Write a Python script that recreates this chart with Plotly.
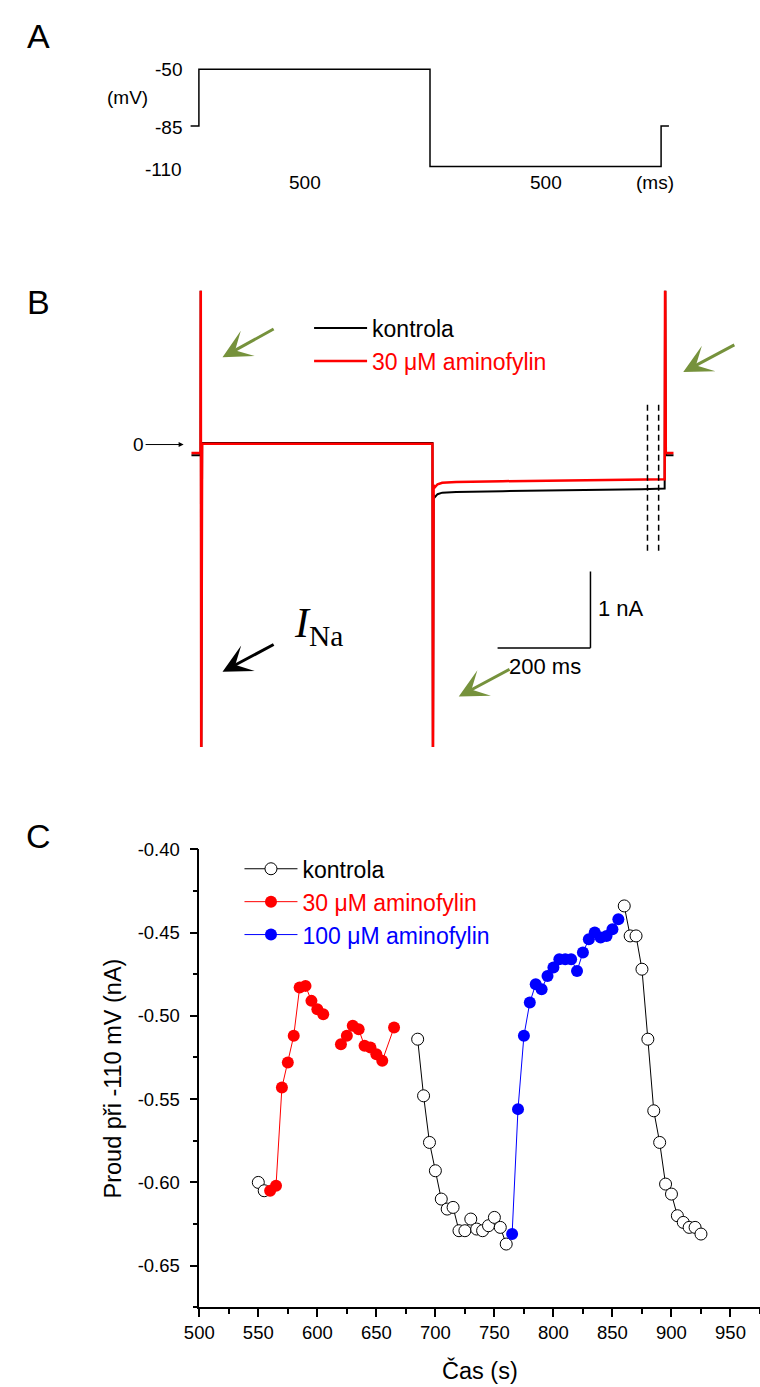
import plotly.graph_objects as go

W, H = 760, 1387
SANS = "Liberation Sans, Arial, Helvetica, sans-serif"
SERIF = "Liberation Serif, Times New Roman, serif"
GREEN = "#76923C"

# ---------------- data ----------------
# A: voltage-clamp protocol (ms, mV)
protocol_t = [-18, 0, 0, 500, 500, 1000, 1000, 1017]
protocol_v = [-85, -85, -50, -50, -110, -110, -85, -85]
level_labels = ["-50", "-85", "-110"]
step_labels = ["500", "500", "(ms)"]

# B: membrane current records (ms, nA)
trace_t = [-20, -0.5, 0, 1, 3, 8, 100, 300, 499, 500, 501.5, 504, 510, 520,
           550, 650, 800, 950, 999, 1000, 1001.5, 1018]
kontrola_i = [-0.14, -0.14, 2.6, -4.5, 0.02, 0.02, 0.02, 0.02, 0.02, -4.5,
              -0.66, -0.69, -0.65, -0.63, -0.62, -0.61, -0.60, -0.585, -0.575,
              2.6, -0.14, -0.14]
amino30_i = [-0.11, -0.11, 2.6, -4.5, 0.01, 0.01, 0.01, 0.01, 0.01, -4.5,
             -0.53, -0.56, -0.52, -0.50, -0.49, -0.48, -0.47, -0.46, -0.455,
             2.6, -0.11, -0.11]
measure_window_ms = [962, 986]
scale_bar_ms = 200
scale_bar_na = 1

# C: current at -110 mV vs time (s, nA)
kontrola_t = [550, 555, None, 685, 690, 695, 700, 705, 710, 715, 720, 725, 730,
              735, 740, 745, 750, 755, 760, None, 860, 865, 870, 875, 880, 885,
              890, 895, 900, 905, 910, 915, 920, 925]
kontrola_y = [-0.600, -0.605, None, -0.514, -0.548, -0.576, -0.593, -0.610,
              -0.616, -0.615, -0.629, -0.629, -0.622, -0.628, -0.629, -0.626,
              -0.621, -0.627, -0.637, None, -0.434, -0.452, -0.452, -0.472,
              -0.514, -0.557, -0.576, -0.601, -0.607, -0.620, -0.624, -0.627,
              -0.627, -0.631]
amino30_t = [560, 565, 570, 575, 580, 585, 590, 595, 600, 605, None, 620, 625,
             630, 635, 640, 645, 650, 655, 665]
amino30_y = [-0.605, -0.602, -0.543, -0.528, -0.512, -0.483, -0.482, -0.491,
             -0.496, -0.499, None, -0.517, -0.512, -0.506, -0.508, -0.518,
             -0.519, -0.523, -0.527, -0.507]
amino100_t = [765, 770, 775, 780, 785, 790, 795, 800, 805, 810, 815, 820, 825,
              830, 835, 840, 845, 850, 855]
amino100_y = [-0.631, -0.556, -0.512, -0.492, -0.481, -0.484, -0.476, -0.471,
              -0.466, -0.466, -0.466, -0.473, -0.462, -0.454, -0.450, -0.453,
              -0.452, -0.448, -0.442]
x_ticks = list(range(500, 951, 50))
y_ticks = [-0.40, -0.45, -0.50, -0.55, -0.60, -0.65]
y_ticktext = ["-0.40", "-0.45", "-0.50", "-0.55", "-0.60", "-0.65"]


def PX(x):
    return x / W


def PY(y):
    return 1 - y / H


fig = go.Figure()

# ---- A ----
fig.add_trace(go.Scatter(x=protocol_t, y=protocol_v, mode="lines",
                         line=dict(color="black", width=1.5),
                         xaxis="x", yaxis="y", showlegend=False, hoverinfo="skip"))

# ---- B ----
fig.add_trace(go.Scatter(x=trace_t, y=kontrola_i, mode="lines", name="kontrola",
                         line=dict(color="black", width=2),
                         xaxis="x2", yaxis="y2", legend="legend"))
fig.add_trace(go.Scatter(x=trace_t, y=amino30_i, mode="lines",
                         name='<span style="color:#FF0000">30 μM aminofylin</span>',
                         line=dict(color="#FF0000", width=2.5),
                         xaxis="x2", yaxis="y2", legend="legend"))

# ---- C ----
fig.add_trace(go.Scatter(x=kontrola_t, y=kontrola_y, mode="lines+markers",
                         name="kontrola", connectgaps=False,
                         line=dict(color="black", width=1),
                         marker=dict(symbol="circle", size=12, color="white",
                                     line=dict(color="black", width=1)),
                         xaxis="x3", yaxis="y3", legend="legend2"))
fig.add_trace(go.Scatter(x=amino30_t, y=amino30_y, mode="lines+markers",
                         name='<span style="color:#FF0000">30 μM aminofylin</span>',
                         connectgaps=False,
                         line=dict(color="#FF0000", width=1),
                         marker=dict(symbol="circle", size=12, color="#FF0000",
                                     line=dict(width=0)),
                         xaxis="x3", yaxis="y3", legend="legend2"))
fig.add_trace(go.Scatter(x=amino100_t, y=amino100_y, mode="lines+markers",
                         name='<span style="color:#0000FF">100 μM aminofylin</span>',
                         line=dict(color="#0000FF", width=1),
                         marker=dict(symbol="circle", size=12, color="#0000FF",
                                     line=dict(width=0)),
                         xaxis="x3", yaxis="y3", legend="legend2"))

hidden = dict(visible=False, showgrid=False, zeroline=False)
axis_c = dict(showline=True, linecolor="black", linewidth=1.5, ticks="outside",
              ticklen=8, tickwidth=1.5, tickcolor="black", showgrid=False,
              zeroline=False, tickfont=dict(family=SANS, size=18.5, color="black"))

fig.update_layout(
    width=W, height=H, margin=dict(l=0, r=0, t=0, b=0),
    paper_bgcolor="white", plot_bgcolor="rgba(0,0,0,0)",
    font=dict(family=SANS, color="black"),
    xaxis=dict(domain=[0, 1], range=[-397.9, 1214], anchor="y", **hidden),
    yaxis=dict(domain=[PY(200), PY(20)], range=[-136.5, -26.3], anchor="x", **hidden),
    xaxis2=dict(domain=[0, 1], range=[-400, 1204.3], anchor="y2", **hidden),
    yaxis2=dict(domain=[PY(742), PY(282)], range=[-3.961, 2.013], anchor="x2", **hidden),
    xaxis3=dict(domain=[PX(188), 1], range=[500, 975], anchor="y3",
                tickvals=x_ticks,
                minor=dict(ticks="outside", ticklen=5, tickwidth=1.5,
                           tickcolor="black", dtick=25, tick0=500),
                **axis_c),
    yaxis3=dict(domain=[PY(1306.7), PY(845)], range=[-0.675, -0.40], anchor="x3",
                tickvals=y_ticks, ticktext=y_ticktext,
                ticklabelstandoff=6,
                minor=dict(ticks="outside", ticklen=5, tickwidth=1.5,
                           tickcolor="black", dtick=0.025, tick0=-0.40),
                **axis_c),
    legend=dict(x=PX(300), y=PY(298), xanchor="left", yanchor="top",
                bgcolor="rgba(0,0,0,0)", font=dict(family=SANS, size=23),
                itemwidth=53, traceorder="normal"),
    legend2=dict(x=PX(229), y=PY(843), xanchor="left", yanchor="top",
                 bgcolor="rgba(0,0,0,0)", font=dict(family=SANS, size=23),
                 itemwidth=53, traceorder="normal"),
)

# dashed measurement window and scale bars in B (data coordinates)
for tw in measure_window_ms:
    fig.add_shape(type="line", xref="x2", yref="y2", x0=tw, x1=tw, y0=0.52, y1=-1.44,
                  line=dict(color="black", width=1.5, dash="6px,4px"))
sb_t1 = 839.2
sb_i0 = -2.662
fig.add_shape(type="line", xref="x2", yref="y2", x0=sb_t1 - scale_bar_ms, x1=sb_t1,
              y0=sb_i0, y1=sb_i0, line=dict(color="black", width=1.5))
fig.add_shape(type="line", xref="x2", yref="y2", x0=sb_t1, x1=sb_t1,
              y0=sb_i0, y1=sb_i0 + scale_bar_na, line=dict(color="black", width=1.5))

ann = []


def text(x, y, s, size=18, xanchor="center", yanchor="middle", color="black",
         family=SANS, angle=0):
    ann.append(dict(x=PX(x), y=PY(y), xref="paper", yref="paper", text=s,
                    showarrow=False, xanchor=xanchor, yanchor=yanchor,
                    textangle=angle,
                    font=dict(family=family, size=size, color=color)))


def arrow(hx, hy, tx, ty, color, width=3, size=1.6, head=3):
    ann.append(dict(x=PX(hx), y=PY(hy), xref="paper", yref="paper", text="",
                    showarrow=True, ax=tx - hx, ay=ty - hy, axref="pixel",
                    ayref="pixel", arrowcolor=color, arrowwidth=width,
                    arrowsize=size, arrowhead=head, standoff=0, startstandoff=0))


# panel letters
text(24, 25, "A", size=34)
text(24, 293, "B", size=34)
text(24, 832, "C", size=34)

# A labels
text(172, 59, level_labels[0], size=19, xanchor="right")
text(115, 87, "(mV)", size=19)
text(172, 117, level_labels[1], size=19, xanchor="right")
text(172, 160, level_labels[2], size=19, xanchor="right")
text(296, 173, step_labels[0], size=19)
text(541.6, 173, step_labels[1], size=19)
text(652.7, 173, step_labels[2], size=19)

# B labels / arrows
ann.append(dict(x=PX(172), y=PY(437), xref="paper", yref="paper", text="0",
                showarrow=True, ax=-45, ay=0, arrowcolor="black", arrowwidth=1,
                arrowsize=1, arrowhead=2, standoff=0,
                font=dict(family=SANS, size=19, color="black")))
arrow(211.7, 349, 264.3, 320, GREEN)
arrow(681.7, 364, 734.3, 336, GREEN)
arrow(452.7, 691, 505, 663, GREEN)
arrow(211.7, 666, 264.3, 638, "black")
text(283, 620, "<i>I</i><sub>Na</sub>", size=42, xanchor="left", family=SERIF)
text(593, 602, "1 nA", size=22, xanchor="left")
text(540.5, 661, "200 ms", size=22)

# C axis titles
text(474, 1370, "Čas (s)", size=23.5)
text(100, 1076, "Proud při -110 mV (nA)", size=23.5, angle=-90)

fig.update_layout(annotations=ann)

fig.write_html("out.html", config={"displayModeBar": False},
               post_script="document.body.style.margin='0px';")
